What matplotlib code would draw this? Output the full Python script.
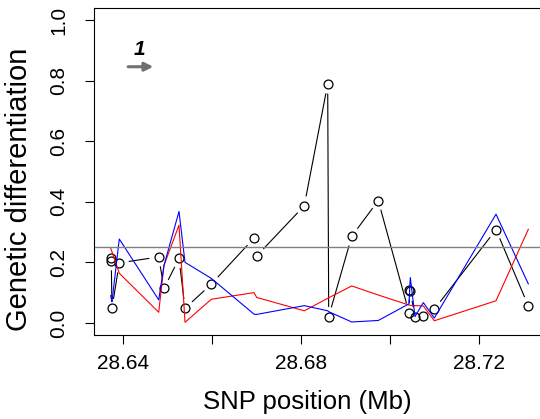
import numpy as np
import matplotlib
matplotlib.use('Agg')
import matplotlib.pyplot as plt
from matplotlib.collections import LineCollection

plt.rcParams['font.family'] = ['Liberation Sans', 'DejaVu Sans']

# SNP positions (Mb) and differentiation per population pair
pos = [28.63717, 28.63730, 28.63746, 28.63910, 28.64796, 28.64915, 28.65252, 28.65387,
       28.65978, 28.66937, 28.66998, 28.68067, 28.68593, 28.68616, 28.69133, 28.69730,
       28.70420, 28.70429, 28.70449, 28.70555, 28.70742, 28.70989, 28.72375, 28.73101]
fst_all = [0.215, 0.205, 0.048, 0.198, 0.218, 0.114, 0.213, 0.048,
           0.128, 0.280, 0.221, 0.387, 0.789, 0.021, 0.286, 0.404,
           0.034, 0.109, 0.104, 0.021, 0.024, 0.045, 0.308, 0.056]
fst_red = [0.247, 0.240, 0.235, 0.164, 0.035, 0.190, 0.323, 0.002,
           0.078, 0.100, 0.084, 0.040, 0.081, 0.083, 0.122, 0.092,
           0.059, 0.059, 0.058, 0.057, 0.056, 0.007, 0.073, 0.309]
fst_blue = [0.090, 0.080, 0.070, 0.277, 0.076, 0.190, 0.368, 0.200,
            0.147, 0.029, 0.028, 0.057, 0.040, 0.037, 0.003, 0.008,
            0.063, 0.090, 0.150, 0.021, 0.067, 0.016, 0.359, 0.129]
threshold = 0.25

xticks = [28.64, 28.66, 28.68, 28.70, 28.72]
xticklabels = ['28.64', '', '28.68', '', '28.72']
yticks = [0.0, 0.2, 0.4, 0.6, 0.8, 1.0]

W, H = 540, 419
fig = plt.figure(figsize=(W / 100, H / 100), dpi=100)
ax = fig.add_axes([94 / W, (H - 335) / H, (545 - 94) / W, (335 - 8) / H])
ax.set_xlim(28.63342, 28.73476)
ax.set_ylim(-0.04, 1.04)


def gapped(x, y, gap=9.5):
    # lines between points stop short of each circle, like R's type="b"
    pts = ax.transData.transform(np.column_stack([x, y]))
    inv = ax.transData.inverted()
    segs = []
    for p0, p1 in zip(pts[:-1], pts[1:]):
        d = np.hypot(*(p1 - p0))
        if d <= 2 * gap:
            continue
        u = (p1 - p0) / d
        segs.append(inv.transform([p0 + u * gap, p1 - u * gap]))
    return segs


ax.add_collection(LineCollection(gapped(pos, fst_all), colors='black', linewidths=0.8))
ax.plot(pos, fst_all, 'o', ms=6.4, mfc='none', mec='black', mew=0.9)
ax.plot(pos, fst_red, color='red', lw=0.8)
ax.plot(pos, fst_blue, color='blue', lw=0.8)
ax.axhline(threshold, color='#808080', lw=1.0)

ax.annotate('', xy=(28.64674, 0.846), xytext=(28.6411, 0.846),
            arrowprops=dict(arrowstyle='-|>,head_length=0.5,head_width=0.25',
                            color='#707070', lw=2.2, shrinkA=0, shrinkB=0))
ax.text(28.6436, 0.904, '1', fontsize=15, fontweight='bold', fontstyle='italic',
        ha='center', va='center')

ax.set_xticks(xticks)
ax.set_xticklabels(xticklabels)
ax.set_yticks(yticks)
ax.set_yticklabels(['%.1f' % v for v in yticks], rotation=90, va='center')
ax.tick_params(length=6.5, width=0.8, labelsize=15)
ax.tick_params(axis='x', pad=7)
ax.tick_params(axis='y', pad=12)
for s in ax.spines.values():
    s.set_linewidth(0.8)

fig.text(307 / W, 1 - 401.5 / H, 'SNP position (Mb)', fontsize=18.5, ha='center', va='center')
fig.text(19.5 / W, 1 - 189 / H, 'Genetic differentiation', fontsize=21, rotation=90,
         ha='center', va='center')

fig.savefig('out.png', dpi=100)
